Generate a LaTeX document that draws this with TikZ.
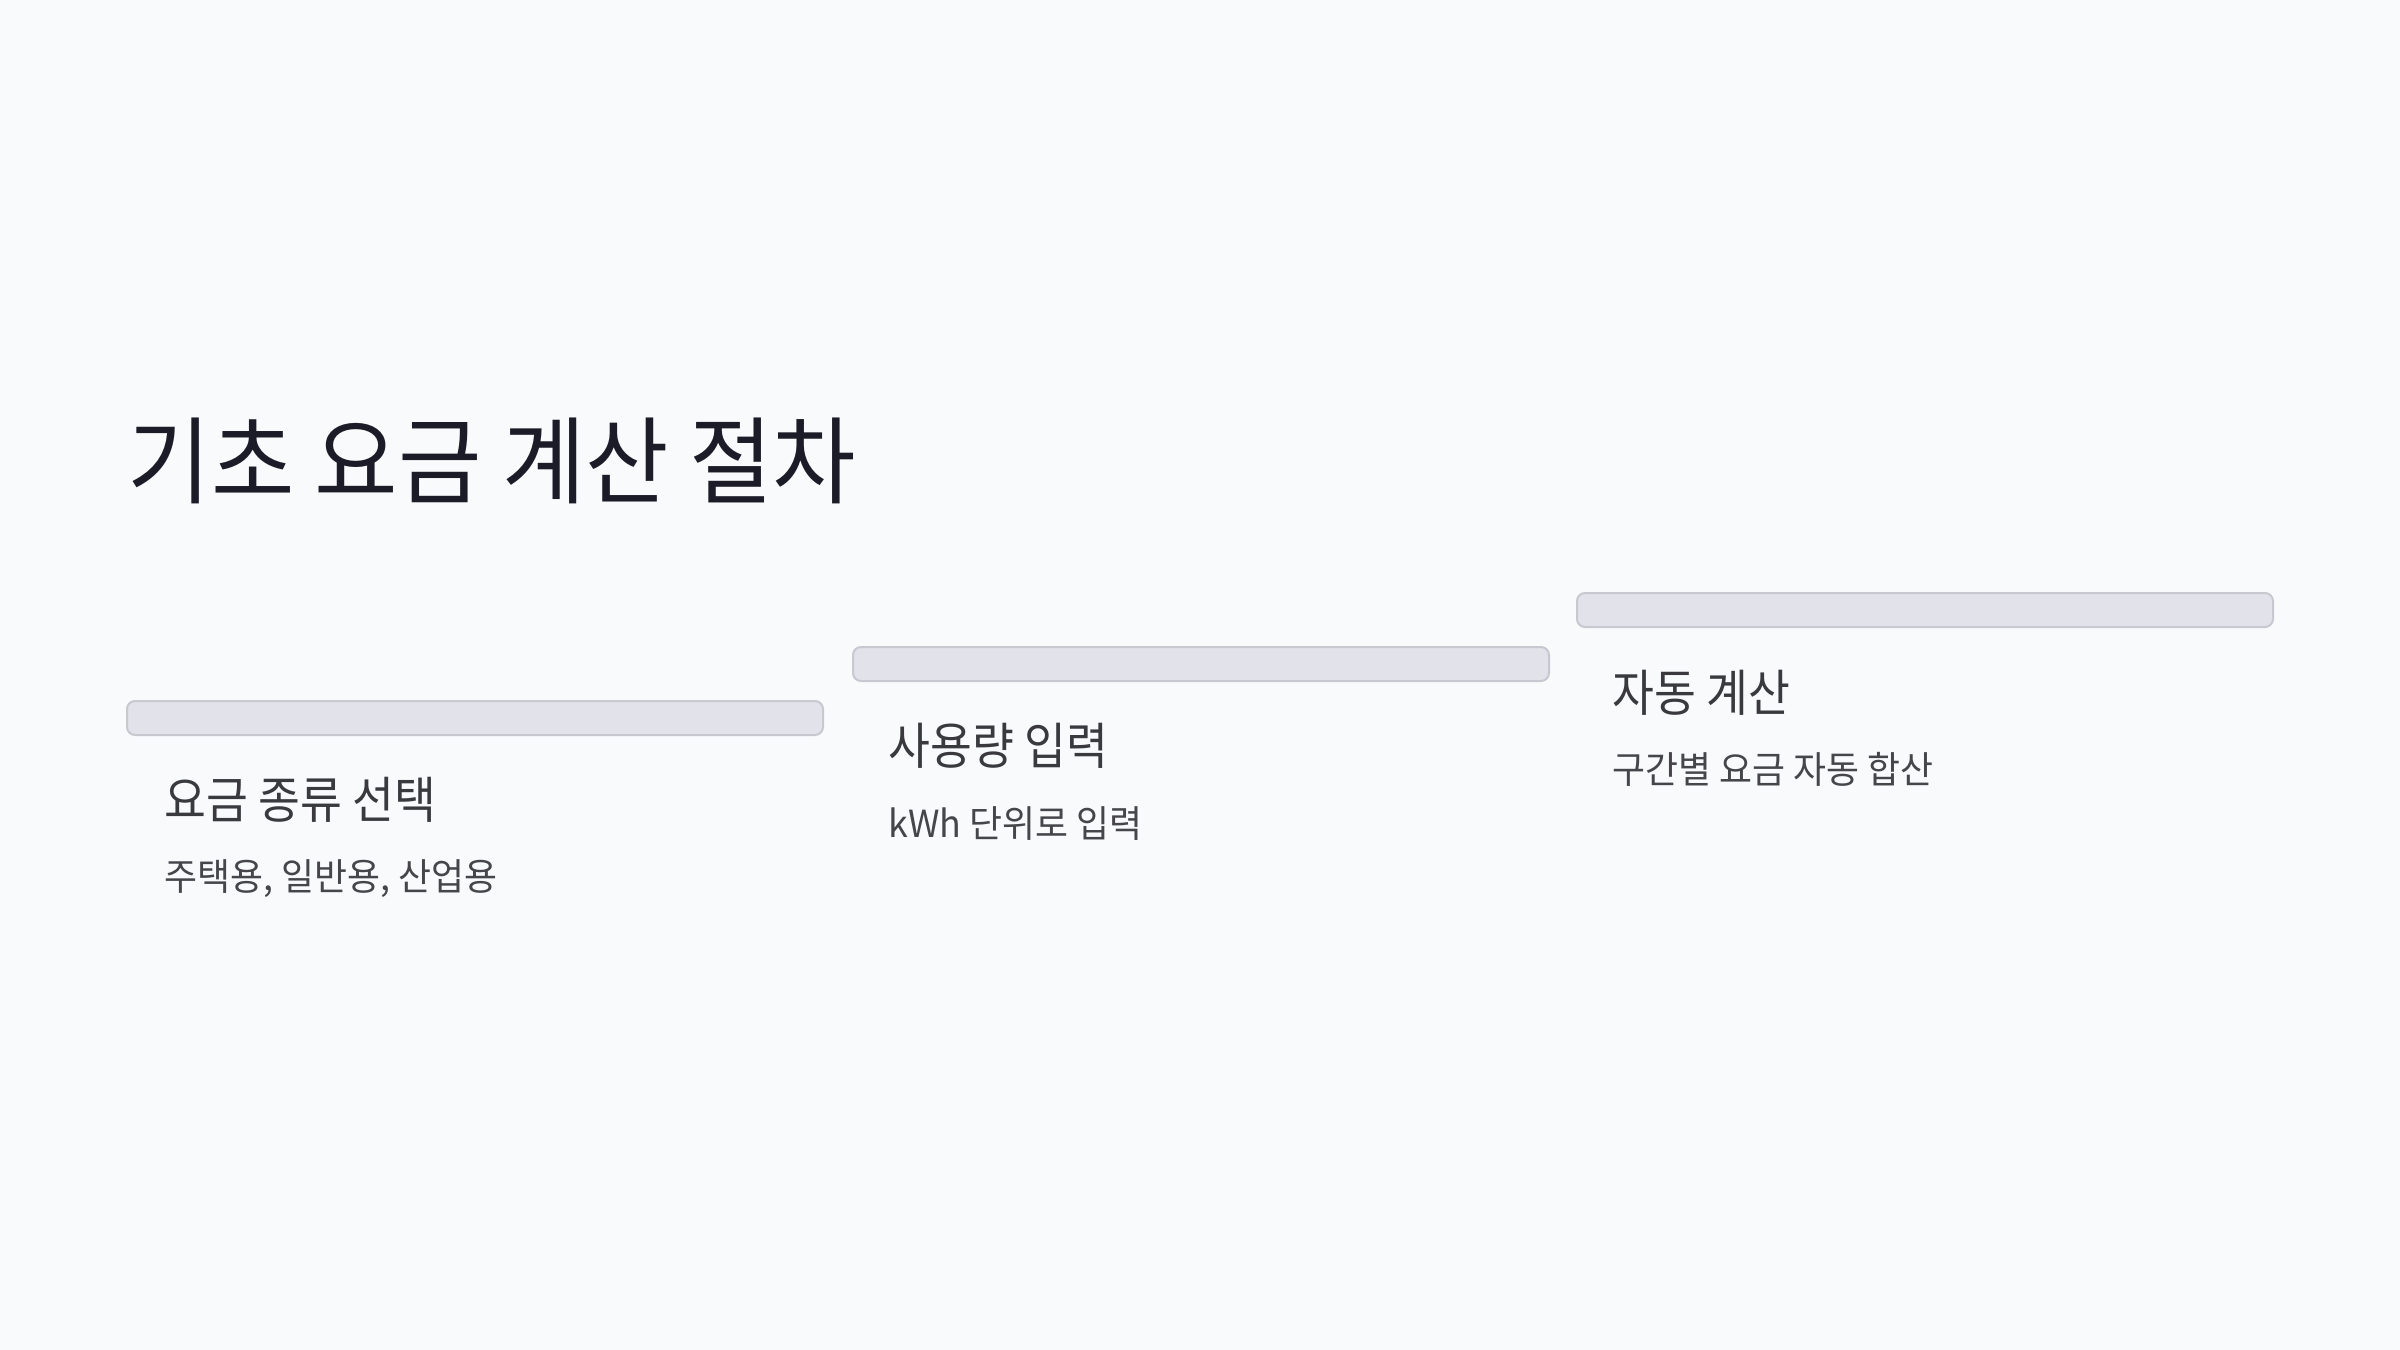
\documentclass[tikz,border=0pt]{standalone}
\usepackage{fontspec}
\setmainfont{Noto Sans CJK KR}
\newfontfamily\titlefont[FakeStretch=0.955]{Noto Sans CJK KR}
\newfontfamily\labfont[FakeStretch=0.91]{Noto Sans CJK KR}
\newfontfamily\subfont[FakeStretch=0.96]{Noto Sans CJK KR}
\definecolor{bg}{HTML}{F9FAFC}
\definecolor{barfill}{HTML}{E1E2EA}
\definecolor{barline}{HTML}{C8C9D0}
\definecolor{titlec}{HTML}{1C1C28}
\definecolor{labc}{HTML}{3A3A3E}
\definecolor{subc}{HTML}{45454A}
\tikzset{
  bar/.style={draw=barline, line width=0.6pt, fill=barfill, rounded corners=2.4pt},
  steplabel/.style={anchor=west, inner sep=0pt, text=labc, font=\labfont\fontsize{15}{18}\selectfont},
  stepsub/.style={anchor=west, inner sep=0pt, text=subc, font=\subfont\fontsize{11.2}{14}\selectfont},
}
\begin{document}
\begin{tikzpicture}[x=0.3pt,y=-0.3pt]
\fill[bg] (0,0) rectangle (2400,1350);
\useasboundingbox (0,0) rectangle (2400,1350);
\node[anchor=west, inner sep=0pt, text=titlec, font=\titlefont\fontsize{28.5}{34}\selectfont] (title) at (127,461) {기초 요금 계산 절차};
\draw[bar] (127,701) rectangle (823,735);
\draw[bar] (853,647) rectangle (1549,681);
\draw[bar] (1577,593) rectangle (2273,627);
\node[steplabel] (l1) at (164,800) {요금 종류 선택};
\node[stepsub] (s1) at (164,879) {주택용, 일반용, 산업용};
\node[steplabel] (l2) at (888,746) {사용량 입력};
\node[stepsub] (s2) at (888,824) {kWh 단위로 입력};
\node[steplabel] (l3) at (1612,693) {자동 계산};
\node[stepsub] (s3) at (1612,769) {구간별 요금 자동 합산};
\end{tikzpicture}
\end{document}
